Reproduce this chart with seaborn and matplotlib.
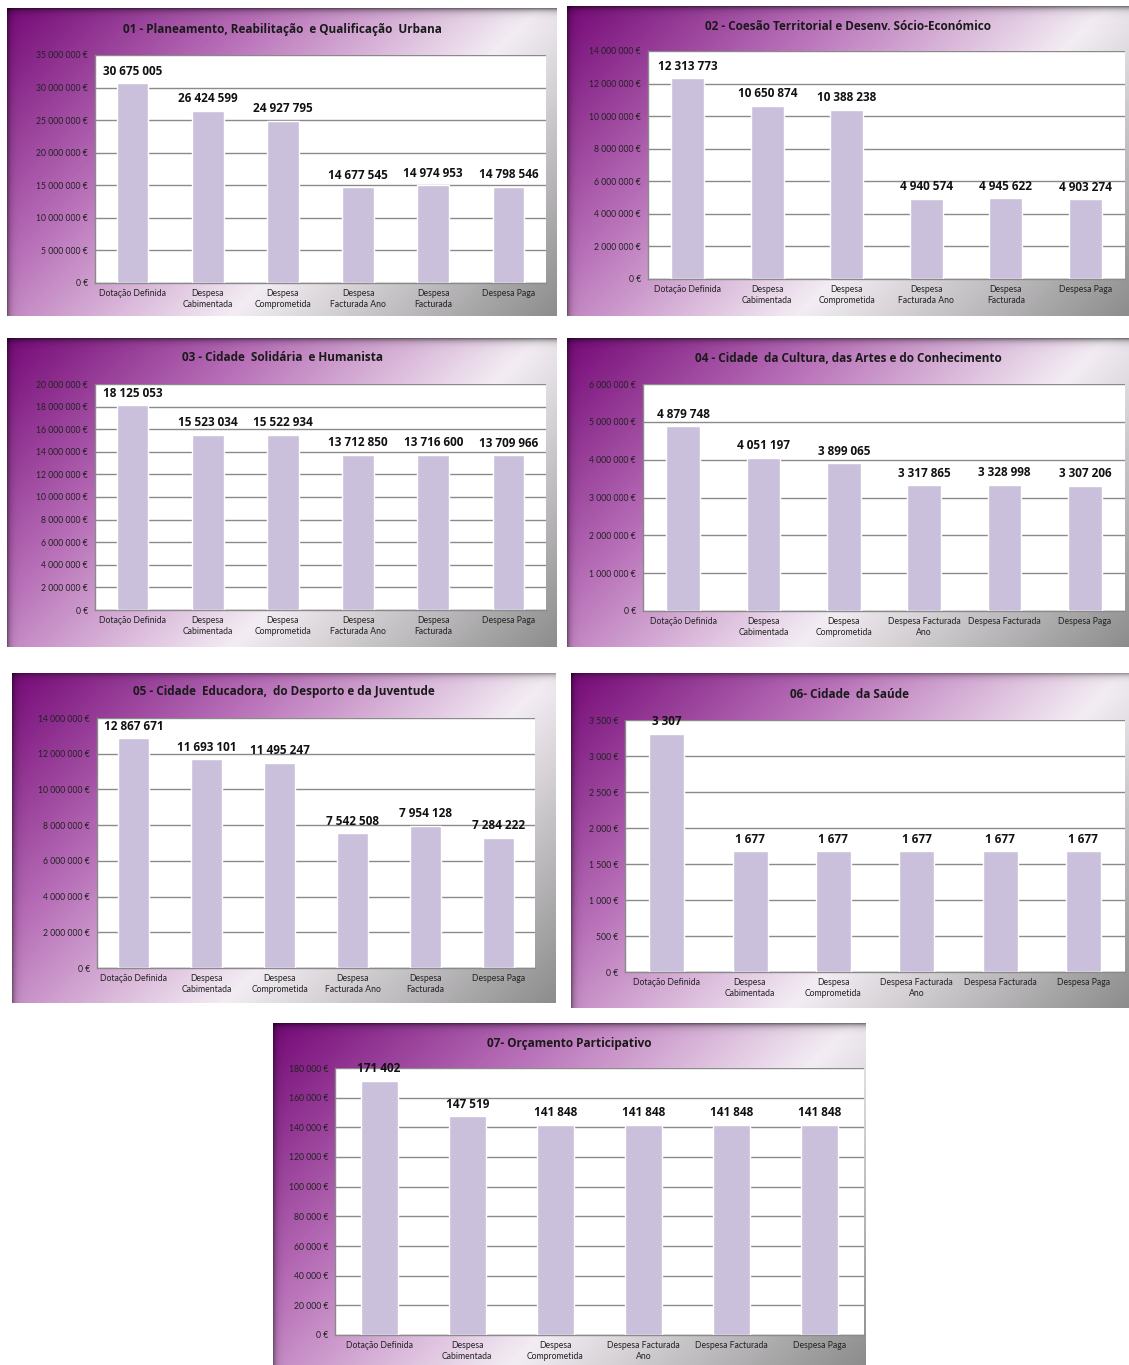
import numpy as np
import pandas as pd
import matplotlib
matplotlib.use('Agg')
import matplotlib.pyplot as plt
from matplotlib.colors import LinearSegmentedColormap
import seaborn as sns

sns.set_style('white')
plt.rcParams['font.family'] = ['Lato', 'DejaVu Sans']
BOLD_FONT = ['Open Sans', 'DejaVu Sans']

# Dados
cats_a = ['Dotação Definida', 'Despesa\nCabimentada', 'Despesa\nComprometida',
          'Despesa\nFacturada Ano', 'Despesa\nFacturada', 'Despesa Paga']
cats_b = ['Dotação Definida', 'Despesa\nCabimentada', 'Despesa\nComprometida',
          'Despesa Facturada\nAno', 'Despesa Facturada', 'Despesa Paga']

titles = ['01 - Planeamento, Reabilitação  e Qualificação  Urbana',
          '02 - Coesão Territorial e Desenv. Sócio-Económico',
          '03 - Cidade  Solidária  e Humanista',
          '04 - Cidade  da Cultura, das Artes e do Conhecimento',
          '05 - Cidade  Educadora,  do Desporto e da Juventude',
          '06- Cidade  da Saúde',
          '07- Orçamento Participativo']

vals_01 = [30675005, 26424599, 24927795, 14677545, 14974953, 14798546]
vals_02 = [12313773, 10650874, 10388238, 4940574, 4945622, 4903274]
vals_03 = [18125053, 15523034, 15522934, 13712850, 13716600, 13709966]
vals_04 = [4879748, 4051197, 3899065, 3317865, 3328998, 3307206]
vals_05 = [12867671, 11693101, 11495247, 7542508, 7954128, 7284222]
vals_06 = [3307, 1677, 1677, 1677, 1677, 1677]
vals_07 = [171402, 147519, 141848, 141848, 141848, 141848]

# eixo y: (max, passo)
y_scale = [(35e6, 5e6), (14e6, 2e6), (20e6, 2e6), (6e6, 1e6),
           (14e6, 2e6), (3500, 500), (180000, 20000)]

all_vals = [vals_01, vals_02, vals_03, vals_04, vals_05, vals_06, vals_07]
all_cats = [cats_a, cats_a, cats_a, cats_b, cats_a, cats_b, cats_b]

W, H = 1129, 1365
# caixas em pixels: painel (x0, y0, x1, y1), area do grafico, y do titulo
panels = [((7, 8, 557, 316), (95, 55, 546, 283), 29),
          ((567, 6, 1129, 316), (648, 51, 1125, 279), 26),
          ((7, 338, 557, 647), (95, 384, 546, 610), 358),
          ((567, 338, 1129, 647), (643, 384, 1125, 611), 359),
          ((12, 673, 556, 1003), (97, 718, 535, 968), 692),
          ((571, 673, 1129, 1008), (625, 720, 1125, 972), 694),
          ((273, 1023, 866, 1365), (335, 1068, 864, 1335), 1044)]

BAR = '#cbc0dc'
GRID = '#8a8a8a'
bg_cmap = LinearSegmentedColormap.from_list(
    'bg', [(0, '#760a78'), (0.3, '#b870b8'), (0.62, '#f3edf3'), (1, '#8c8c8c')])


def fmt(v):
    return f'{int(v):,}'.replace(',', ' ')


def to_fig(box):
    x0, y0, x1, y1 = box
    return [x0 / W, 1 - y1 / H, (x1 - x0) / W, (y1 - y0) / H]


fig = plt.figure(figsize=(W / 100, H / 100), dpi=100)

for i in range(7):
    pbox, abox, ty = panels[i]
    x0, y0, x1, y1 = pbox
    w, h = x1 - x0, y1 - y0

    # fundo em gradiente
    bg = fig.add_axes(to_fig(pbox), zorder=0)
    px = np.arange(w)[None, :]
    py = np.arange(h)[:, None]
    t = (px + py) / (w + h)
    img = bg_cmap(t)[..., :3]
    shade = 1 - 0.5 * np.exp(-py / 3.0) - 0.4 * np.exp(-px / 3.0)
    img = img * np.clip(shade, 0.3, 1)[..., None]
    bg.imshow(img, aspect='auto', interpolation='bilinear')
    bg.axis('off')

    fig.text((x0 + x1) / 2 / W, 1 - ty / H, titles[i], ha='center', va='center',
             fontsize=8.5, fontweight='bold', color='#1a1a1a', family=BOLD_FONT)

    ax = fig.add_axes(to_fig(abox), zorder=1)
    df = pd.DataFrame({'Categoria': all_cats[i], 'Valor': all_vals[i]})
    sns.barplot(data=df, x='Categoria', y='Valor', color=BAR, saturation=1,
                width=0.42, ax=ax, zorder=3)

    ymax, step = y_scale[i]
    ax.set_ylim(0, ymax)
    ax.set_xlim(-0.5, 5.5)
    ticks = np.arange(0, ymax + step / 2, step)
    ax.set_yticks(ticks)
    ax.set_yticklabels([fmt(v) + ' €' for v in ticks])
    ax.yaxis.grid(True, color=GRID, linewidth=1.0, zorder=0)
    ax.set_axisbelow(True)
    ax.set_facecolor('white')
    ax.set_xlabel('')
    ax.set_ylabel('')

    ax.set_xticks(np.arange(-0.5, 6, 1), minor=True)
    ax.tick_params(axis='x', which='major', length=0, labelsize=6.2,
                   labelcolor='#222222', pad=4)
    ax.tick_params(axis='x', which='minor', length=3, color=GRID, width=0.8)
    ax.tick_params(axis='y', length=3, color=GRID, width=0.8, labelsize=6.2,
                   labelcolor='#222222', pad=2)
    for lbl in ax.get_xticklabels():
        lbl.set_linespacing(1.3)

    for s in ['top', 'right']:
        ax.spines[s].set_visible(False)
    for s in ['left', 'bottom']:
        ax.spines[s].set_color(GRID)
        ax.spines[s].set_linewidth(1.0)

    for j, v in enumerate(all_vals[i]):
        ax.annotate(fmt(v), (j, v), xytext=(0, 4), textcoords='offset points',
                    ha='center', va='bottom', fontsize=8.5, fontweight='bold',
                    family=BOLD_FONT, color='#111111', zorder=5,
                    annotation_clip=False)

fig.savefig('out.png', dpi=100, facecolor='white')
